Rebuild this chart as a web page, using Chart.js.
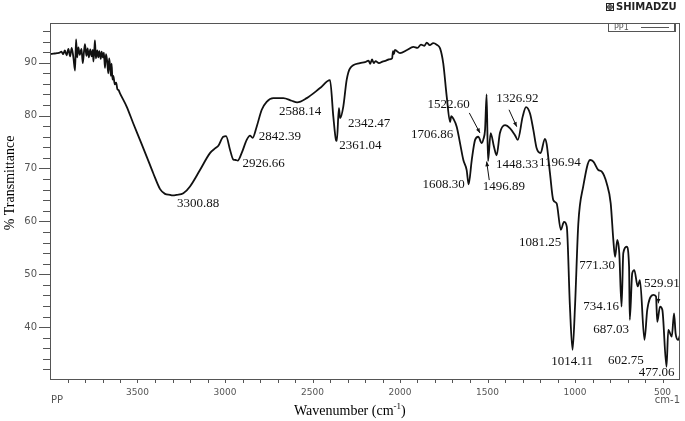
<!DOCTYPE html>
<html>
<head>
<meta charset="utf-8">
<script src="https://cdn.jsdelivr.net/npm/chart.js@4.4.1/dist/chart.umd.min.js"></script>
<style>
html,body{margin:0;padding:0;background:#fff;}
#wrap{position:relative;width:685px;height:421px;}
</style>
</head>
<body>
<div id="wrap"><canvas id="ir"></canvas></div>
<script>
// spectrum, high wavenumber to low
var wavenumber=[
4000,3980,3960,3945,3935,3925,3915,3905,3895,3885,3876,3866,3857,3851,3845,3838,3830,3820,3813,3806,
3800,3792,3785,3778,3770,3762,3755,3752,3746,3743,3738,3730,3724,3718,3710,3705,3698,3692,3686,3680,
3673,3667,3662,3657,3652,3648,3643,3638,3630,3622,3615,3608,3600,
3562,3524,3486,3447,3410,3371,3343,3314,3301,3276,3238,3200,3143,3086,3057,3038,3010,2994,2971,2953,
2940,2927,2905,2876,2857,2842,2819,2790,2762,2724,2667,2619,2588,2533,2457,2400,2381,2366,2361,2349,
2342,2324,2305,2286,2229,
2200,2180,2170,2160,2150,2140,2120,2100,2080,2065,2045,2040,2035,2029,2000,1960,1924,1900,1880,1860,
1847,1830,1810,1790,1771,1753,1733,1714,1707,1695,1676,1657,1638,1619,1608,1590,1571,1553,1533,1523,
1514,1505,1497,1482,1463,1448,1429,1400,1371,1343,1327,1299,1280,1257,1238,1219,1197,1172,1162,1143,
1124,1105,1081,1063,1047,1029,1014,1000,981,953,914,895,867,847,819,796,781,771,758,747,
734,724,705,691,687,673,661,642,629,603,587,553,537,530,514,501,477,467,447,434,
425,410,400];
var transmittance=[
91.6,91.7,91.8,91.9,92.1,91.6,92.3,91.4,92.6,91.2,92.8,90.9,88.5,94.4,91.0,92.9,91.5,92.6,89.9,92.0,
93.5,91.3,92.7,91.0,92.5,91.2,92.4,90.2,92.8,94.2,90.8,92.3,91.0,92.2,90.7,92.1,91.0,91.9,89.0,91.6,
90.2,88.0,90.8,89.5,87.5,89.8,86.8,87.5,85.9,86.2,85.0,84.8,84.2,
81.7,78.5,75.4,72.2,69.1,66.1,65.2,65.0,64.9,65.0,65.3,66.6,69.7,72.9,73.8,74.3,76.0,76.1,73.5,71.7,
71.6,71.5,72.9,75.4,76.2,75.8,77.9,81.1,82.6,83.3,83.3,82.8,82.5,83.3,85.2,86.7,79.8,75.4,75.2,81.4,
79.5,81.7,86.7,88.9,89.9,
90.1,90.4,89.8,90.6,89.9,90.3,89.9,90.2,90.4,90.6,90.8,92.2,91.6,92.4,91.8,92.4,93.0,92.8,93.4,93.2,
93.8,93.3,93.7,93.4,92.7,89.9,83.6,78.8,79.9,79.4,77.9,74.8,71.6,69.7,67.0,71.6,75.4,76.0,74.8,75.6,
77.3,84.0,71.4,76.7,74.1,72.5,76.7,78.2,77.6,76.3,75.4,79.8,81.6,80.4,77.3,73.8,72.9,75.6,74.6,69.1,
64.0,63.4,58.4,59.9,59.0,43.9,35.7,43.9,59.6,66.6,71.6,71.3,69.7,69.4,67.2,63.4,56.5,53.3,56.5,54.0,
43.9,54.0,55.2,51.4,41.4,50.2,50.8,47.7,48.9,37.6,43.3,46.1,45.8,41.0,43.9,43.3,32.5,39.5,38.2,42.6,
38.8,37.6,38.5];

var xTicks=[3500,3000,2500,2000,1500,1000,500];
var yTicks=[40,50,60,70,80,90];

// peak labels: text, label centre (wavenumber, %T)
var peakNotes=[
  ['3300.88',3154,63.3],['2926.66',2780,71.0],['2842.39',2686,76.0],['2588.14',2571,80.7],
  ['2342.47',2177,78.4],['2361.04',2226,74.4],['1522.60',1722,82.0],['1706.86',1817,76.5],
  ['1326.92',1329,83.3],['1608.30',1751,67.0],['1496.89',1406,66.5],['1448.33',1331,70.8],
  ['1196.94',1086,71.2],['1081.25',1200,55.9],['771.30',874,51.6],['734.16',851,43.8],
  ['687.03',794,39.5],['529.91',503,48.3],['1014.11',1017,33.4],['602.75',709,33.6],['477.06',534,31.5]
];
// arrows: from (w,T) to (w,T)
var arrows=[[1604,80.5,1543,76.7],[1377,81.1,1333,77.9],[1490,67.8,1505,71.3],[520,46.7,524,44.5]];

var pts=wavenumber.map(function(w,i){return {x:w,y:transmittance[i]};});

var serif='"Liberation Serif","Times New Roman",serif';
var sans='"DejaVu Sans",sans-serif';

var deco={
  id:'deco',
  afterDraw:function(c){
    var ctx=c.ctx,a=c.chartArea,xs=c.scales.x,ys=c.scales.y;
    ctx.save();
    // frame
    ctx.strokeStyle='#555';ctx.lineWidth=1;
    ctx.strokeRect(a.left+0.5,a.top+0.5,a.right-a.left-1,a.bottom-a.top);
    // y ticks every 2
    ctx.beginPath();
    for(var v=32;v<=96;v+=2){
      var py=Math.round(ys.getPixelForValue(v))+0.5;
      var len=v%10===0?11:7;
      ctx.moveTo(a.left-len,py);ctx.lineTo(a.left,py);
    }
    // x ticks every 100
    for(var w=500;w<=3900;w+=100){
      var px=Math.round(xs.getPixelForValue(w))+0.5;
      ctx.moveTo(px,a.bottom);ctx.lineTo(px,a.bottom+4);
    }
    ctx.stroke();
    // PP / cm-1
    ctx.fillStyle='#555';ctx.font='10px '+sans;ctx.textBaseline='middle';
    ctx.textAlign='left';ctx.fillText('PP',a.left+1,400);
    ctx.textAlign='right';ctx.fillText('cm-1',a.right,400);
    // axis titles
    ctx.fillStyle='#000';ctx.font='14px '+serif;ctx.textAlign='left';ctx.textBaseline='alphabetic';
    var t1='Wavenumber (cm',x0=294;
    ctx.fillText(t1,x0,415);
    var w1=ctx.measureText(t1).width;
    ctx.font='9px '+serif;ctx.fillText('-1',x0+w1,409);
    var w2=ctx.measureText('-1').width;
    ctx.font='14px '+serif;ctx.fillText(')',x0+w1+w2,415);
    ctx.save();
    ctx.translate(10,183);ctx.rotate(-Math.PI/2);
    ctx.textAlign='center';ctx.textBaseline='middle';
    ctx.fillText('% Transmittance',0,0);
    ctx.restore();
    // peak labels
    ctx.font='13px '+serif;ctx.textAlign='center';ctx.textBaseline='middle';ctx.fillStyle='#111';
    peakNotes.forEach(function(n){
      ctx.fillText(n[0],xs.getPixelForValue(n[1]),ys.getPixelForValue(n[2]));
    });
    // arrows
    ctx.strokeStyle='#111';ctx.lineWidth=1;
    arrows.forEach(function(r){
      var x1=xs.getPixelForValue(r[0]),y1=ys.getPixelForValue(r[1]);
      var x2=xs.getPixelForValue(r[2]),y2=ys.getPixelForValue(r[3]);
      var ang=Math.atan2(y2-y1,x2-x1);
      ctx.beginPath();ctx.moveTo(x1,y1);ctx.lineTo(x2,y2);ctx.stroke();
      ctx.beginPath();ctx.moveTo(x2,y2);
      ctx.lineTo(x2-5*Math.cos(ang-0.4),y2-5*Math.sin(ang-0.4));
      ctx.lineTo(x2-5*Math.cos(ang+0.4),y2-5*Math.sin(ang+0.4));
      ctx.closePath();ctx.fillStyle='#111';ctx.fill();
    });
    // legend box
    var lx=a.right-72,ly=a.top;
    ctx.fillStyle='#fff';ctx.fillRect(lx,ly,67,8);
    ctx.strokeStyle='#555';ctx.strokeRect(lx+0.5,ly+0.5,66,8);
    ctx.beginPath();ctx.moveTo(lx+67.5,ly+1);ctx.lineTo(lx+67.5,ly+9);ctx.stroke();
    ctx.fillStyle='#555';ctx.font='8px '+sans;ctx.textAlign='left';ctx.textBaseline='middle';
    ctx.fillText('PP1',lx+6,ly+4.8);
    ctx.beginPath();ctx.moveTo(lx+33,ly+4.5);ctx.lineTo(lx+61,ly+4.5);ctx.stroke();
    // maker logo
    ctx.strokeStyle='#222';ctx.fillStyle='#222';
    ctx.strokeRect(606.5,3.5,7,7);
    ctx.beginPath();ctx.arc(610,7,2.4,0,Math.PI*2);ctx.stroke();
    ctx.beginPath();ctx.moveTo(610,4.5);ctx.lineTo(610,9.5);ctx.moveTo(607.5,7);ctx.lineTo(612.5,7);ctx.stroke();
    ctx.font='bold 10px '+sans;ctx.textBaseline='middle';ctx.textAlign='left';
    ctx.fillText('SHIMADZU',616,7.5);
    ctx.restore();
  }
};

new Chart(document.getElementById('ir'),{
  type:'line',
  data:{datasets:[{data:pts,borderColor:'#111',borderWidth:1.8,pointRadius:0,cubicInterpolationMode:'monotone',fill:false}]},
  options:{
    responsive:true,maintainAspectRatio:false,animation:false,
    layout:{padding:{top:23,right:5,left:0,bottom:0}},
    plugins:{legend:{display:false},tooltip:{enabled:false}},
    scales:{
      x:{type:'linear',reverse:true,min:400,max:4000,
        afterFit:function(s){s.height=42;},
        afterBuildTicks:function(s){s.ticks=xTicks.map(function(v){return {value:v};});},
        grid:{display:false,drawTicks:false},border:{display:false},
        ticks:{autoSkip:false,maxRotation:0,padding:8,color:'#555',font:{family:'DejaVu Sans',size:9},
          callback:function(v){return String(v);}}},
      y:{type:'linear',min:30.2,max:97.5,
        afterFit:function(s){s.width=50;},
        afterBuildTicks:function(s){s.ticks=yTicks.map(function(v){return {value:v};});},
        grid:{display:false,drawTicks:false},border:{display:false},
        ticks:{padding:13,color:'#555',font:{family:'DejaVu Sans',size:10}}}
    }
  },
  plugins:[deco]
});
</script>
</body>
</html>
